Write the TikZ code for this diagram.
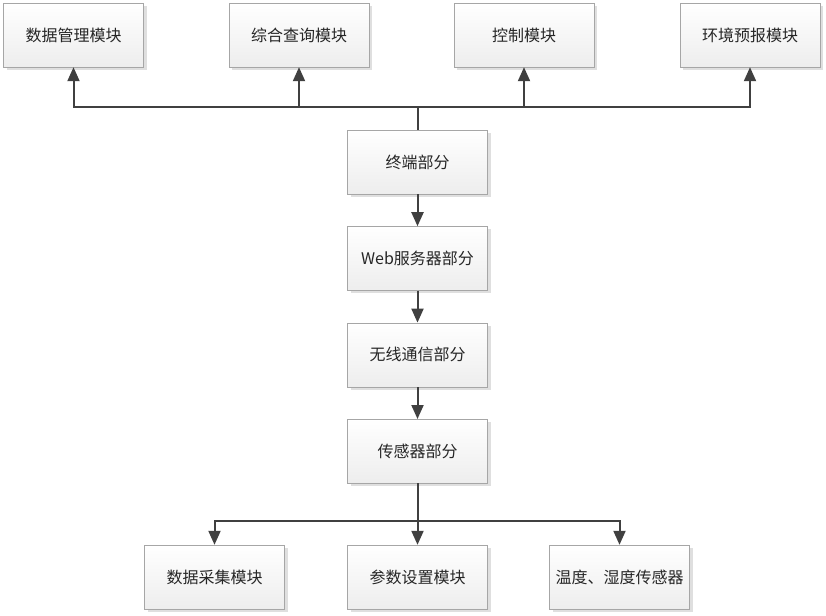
\documentclass[tikz,border=0pt]{standalone}
\usepackage{fontspec}
\setmainfont{Noto Sans CJK SC}
\usetikzlibrary{arrows.meta,calc,positioning,shadows}

\begin{document}
\begin{tikzpicture}[x=1pt,y=1pt,
    >={Triangle[length=14pt,width=12pt]},
    box/.style={draw=gray!70,top color=white,bottom color=gray!14,
      minimum width=140pt,minimum height=64pt,inner sep=0pt,
      text=black!85,font=\fontsize{16}{19}\selectfont,
      drop shadow={shadow xshift=3pt,shadow yshift=-3pt,fill=gray!25,opacity=1}},
    link/.style={line width=2pt,draw=black!75}]

% fix the page size
\useasboundingbox (0,0) rectangle (826,-615);

% draw the top row of modules
\node[box] (dm) at (73.5,-35) {数据管理模块};
\node[box] (cx) at (299,-35) {综合查询模块};
\node[box] (kz) at (524,-35) {控制模块};
\node[box] (hj) at (750,-35) {环境预报模块};

% draw the middle column
\node[box] (term) at (417.5,-162) {终端部分};
\node[box,below=32pt of term] (web) {Web服务器部分};
\node[box,below=32pt of web] (wl) {无线通信部分};
\node[box,below=32pt of wl] (sens) {传感器部分};

% draw the bottom row of modules
\node[box] (cj) at (214.5,-577) {数据采集模块};
\node[box] (sz) at (417.5,-577) {参数设置模块};
\node[box] (th) at (619.5,-577) {温度、湿度传感器};

% arrows down the middle column
\draw[link,->] (term) -- (web);
\draw[link,->] (web) -- (wl);
\draw[link,->] (wl) -- (sens);

% branch from the terminal up to the top modules
\coordinate (up) at ($(term.north)+(0,23)$);
\draw[link] (term.north) -- (up);
\foreach \m in {dm,cx,kz,hj}
  \draw[link,->] (up) -| (\m.south);

% branch from the sensors down to the bottom modules
\coordinate (down) at ($(sens.south)+(0,-38)$);
\draw[link] (sens.south) -- (down);
\foreach \m in {cj,sz,th}
  \draw[link,->] (down) -| (\m.north);

\end{tikzpicture}
\end{document}
